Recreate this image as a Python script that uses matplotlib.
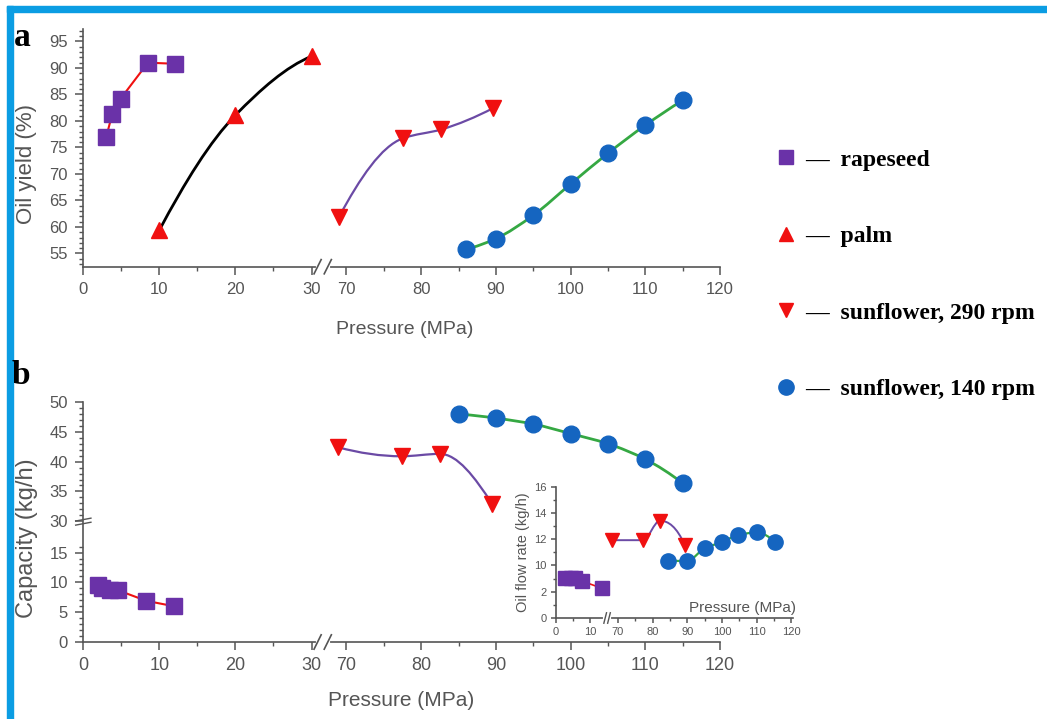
import numpy as np
import matplotlib.pyplot as plt
from matplotlib.lines import Line2D
from matplotlib.path import Path
from matplotlib.patches import PathPatch, Rectangle

# ---- panel a: oil yield (%) ----
rape_x_a = [3.0, 3.8, 4.9, 8.5, 12.0]
rape_y_a = [76.9, 81.3, 84.2, 91.0, 90.8]
palm_x_a = [10, 20, 30]
palm_y_a = [59.4, 81.1, 92.2]
sun290_x_a = [69.0, 77.5, 82.7, 89.6]
sun290_y_a = [61.9, 76.7, 78.4, 82.4]
sun140_x_a = [86, 90, 95, 100, 105, 110, 115]
sun140_y_a = [55.8, 57.8, 62.2, 68.1, 73.9, 79.2, 83.9]

# ---- panel b: capacity (kg/h) ----
rape_x_b = [1.9, 2.5, 3.5, 4.5, 8.3, 11.9]
rape_y_b = [9.6, 9.0, 8.8, 8.7, 6.9, 6.0]
sun290_x_b = [68.9, 77.4, 82.5, 89.5]
sun290_y_b = [42.4, 40.9, 41.3, 32.9]
sun140_x_b = [85, 90, 95, 100, 105, 110, 115]
sun140_y_b = [48.0, 47.3, 46.3, 44.7, 43.0, 40.4, 36.4]

# ---- inset: oil flow rate (kg/h) ----
rape_x_in = [2.7, 4.5, 5.5, 7.6, 13.3]
rape_y_in = [3.1, 3.1, 3.05, 2.85, 2.3]
sun290_x_in = [68.3, 77.2, 82.1, 89.3]
sun290_y_in = [11.9, 11.9, 13.4, 11.5]
sun140_x_in = [84.4, 89.9, 95.1, 100, 104.6, 110.1, 115.3]
sun140_y_in = [10.3, 10.3, 11.3, 11.75, 12.3, 12.5, 11.75]

main_xticks = [0, 10, 20, 30, 70, 80, 90, 100, 110, 120]
main_xminor = [5, 15, 25, 75, 85, 95, 105, 115]
yield_ticks = [55, 60, 65, 70, 75, 80, 85, 90, 95]
cap_ticks = [0, 5, 10, 15, 30, 35, 40, 45, 50]
inset_xticks = [0, 10, 70, 80, 90, 100, 110, 120]
inset_xminor = [5, 75, 85, 95, 105, 115]
inset_yticks = [0, 2, 10, 12, 14, 16]
inset_yminor = [1, 3, 11, 13, 15]

legend_labels = ['—  rapeseed', '—  palm', '—  sunflower, 290 rpm', '—  sunflower, 140 rpm']

PURPLE = '#6a32a8'
RED = '#f01010'
BLUE = '#1565c0'
GREEN = '#35a843'
LINE_PURPLE = '#6b4aa5'
GREY = '#555555'

plt.rcParams['font.family'] = 'Liberation Sans'


def broken_scale(knots_in, knots_out):
    # piecewise linear scale used for the axis breaks
    xk = np.array(knots_in, float)
    tk = np.array(knots_out, float)
    return (lambda v: np.interp(v, xk, tk), lambda t: np.interp(t, tk, xk))


def pchip_slopes(x, y):
    h = np.diff(x)
    d = np.diff(y) / h
    n = len(x)
    m = np.zeros(n)
    for i in range(1, n - 1):
        if d[i - 1] * d[i] > 0:
            w1 = 2 * h[i] + h[i - 1]
            w2 = h[i] + 2 * h[i - 1]
            m[i] = (w1 + w2) / (w1 / d[i - 1] + w2 / d[i])
    if n > 2:
        m[0] = ((2 * h[0] + h[1]) * d[0] - h[0] * d[1]) / (h[0] + h[1])
        m[-1] = ((2 * h[-1] + h[-2]) * d[-1] - h[-1] * d[-2]) / (h[-1] + h[-2])
        for j, dj in ((0, d[0]), (n - 1, d[-1])):
            if m[j] * dj <= 0:
                m[j] = 0.0
    else:
        m[0] = m[-1] = d[0]
    return m


def smooth_path(xs, ys):
    # monotone cubic drawn as bezier segments
    x = np.asarray(xs, float)
    y = np.asarray(ys, float)
    m = pchip_slopes(x, y)
    verts = [(x[0], y[0])]
    codes = [Path.MOVETO]
    for i in range(len(x) - 1):
        h = x[i + 1] - x[i]
        verts += [(x[i] + h / 3, y[i] + m[i] * h / 3),
                  (x[i + 1] - h / 3, y[i + 1] - m[i + 1] * h / 3),
                  (x[i + 1], y[i + 1])]
        codes += [Path.CURVE4] * 3
    return Path(verts, codes)


def smooth_line(ax, xs, ys, color, lw):
    ax.add_patch(PathPatch(smooth_path(xs, ys), facecolor='none',
                           edgecolor=color, lw=lw, zorder=2))


def style_axes(ax, labelsize):
    for s in ('top', 'right'):
        ax.spines[s].set_visible(False)
    for s in ('left', 'bottom'):
        ax.spines[s].set_color(GREY)
        ax.spines[s].set_linewidth(1.2)
    ax.tick_params(which='major', direction='out', length=6, width=1.1,
                   color=GREY, labelcolor=GREY, labelsize=labelsize, pad=5)
    ax.tick_params(which='minor', direction='out', length=3, width=1.0, color=GREY)


def x_break(ax, xf, dx, dy, lw=1.2):
    ax.plot([xf - dx, xf + dx], [0, 0], transform=ax.transAxes, color='white',
            lw=3, clip_on=False, zorder=4)
    for off in (-dx, dx):
        ax.plot([xf + off - dx * 0.7, xf + off + dx * 0.7], [-dy, dy],
                transform=ax.transAxes, color=GREY, lw=lw, clip_on=False, zorder=5)


fig = plt.figure(figsize=(10.47, 7.19), dpi=100)
W, H = 1047, 719

# blue frame
fig.patches.append(Rectangle((7 / W, 0), 6 / W, 1 - 6 / H, transform=fig.transFigure,
                             color='#0b9de3', zorder=0))
fig.patches.append(Rectangle((7 / W, 1 - 12 / H), 1, 6 / H, transform=fig.transFigure,
                             color='#0b9de3', zorder=0))

x_fwd, x_inv = broken_scale([-1000, 31, 68, 1000], [-1000, 31, 32.636, 34.6 + 930 * 0.982])

# ---------------- panel a ----------------
ax_a = fig.add_axes([83.3 / W, 1 - 266.7 / H, 636.7 / W, 237.4 / H])
ax_a.set_xscale('function', functions=(x_fwd, x_inv))
ax_a.set_xlim(0, 120)
ax_a.set_ylim(52.5, 97.3)
ax_a.set_xticks(main_xticks)
ax_a.set_xticks(main_xminor, minor=True)
ax_a.set_yticks(yield_ticks)
ax_a.set_yticks(np.arange(53, 98, 1), minor=True)
style_axes(ax_a, 12)

ax_a.plot(rape_x_a, rape_y_a, color=RED, lw=1.5, zorder=2)
smooth_line(ax_a, palm_x_a, palm_y_a, 'black', 2)
smooth_line(ax_a, sun290_x_a, sun290_y_a, LINE_PURPLE, 1.6)
smooth_line(ax_a, sun140_x_a, sun140_y_a, GREEN, 2)
ax_a.plot(rape_x_a, rape_y_a, ls='none', marker='s', ms=12, color=PURPLE, zorder=3)
ax_a.plot(palm_x_a, palm_y_a, ls='none', marker='^', ms=12, color=RED, zorder=3)
ax_a.plot(sun290_x_a, sun290_y_a, ls='none', marker='v', ms=12, color=RED, zorder=3)
ax_a.plot(sun140_x_a, sun140_y_a, ls='none', marker='o', ms=12, color=BLUE, zorder=3)

ax_a.set_xlabel('Pressure (MPa)', fontsize=14, color=GREY)
ax_a.xaxis.set_label_coords(0.505, -0.227)
ax_a.set_ylabel('Oil yield (%)', fontsize=16, color=GREY)
ax_a.yaxis.set_label_coords(-0.072, 0.433)
x_break(ax_a, 0.376, 0.008, 0.03)

# ---------------- panel b ----------------
y_fwd, y_inv = broken_scale([-1000, 17, 29, 1000], [-1000, 17, 19.25, 1000 - 9.75])
ax_b = fig.add_axes([83.3 / W, 1 - 642 / H, 636.7 / W, 240 / H])
ax_b.set_xscale('function', functions=(x_fwd, x_inv))
ax_b.set_yscale('function', functions=(y_fwd, y_inv))
ax_b.set_xlim(0, 120)
ax_b.set_ylim(0, 50)
ax_b.set_xticks(main_xticks)
ax_b.set_xticks(main_xminor, minor=True)
ax_b.set_yticks(cap_ticks)
ax_b.set_yticks(list(range(0, 17)) + list(range(30, 51)), minor=True)
style_axes(ax_b, 12)
ax_b.tick_params(axis='x', which='major', labelsize=13)

ax_b.plot(rape_x_b, rape_y_b, color=RED, lw=1.5, zorder=2)
smooth_line(ax_b, sun290_x_b, sun290_y_b, LINE_PURPLE, 1.6)
smooth_line(ax_b, sun140_x_b, sun140_y_b, GREEN, 2)
ax_b.plot(rape_x_b, rape_y_b, ls='none', marker='s', ms=11, color=PURPLE, zorder=3)
ax_b.plot(sun290_x_b, sun290_y_b, ls='none', marker='v', ms=12, color=RED, zorder=3)
ax_b.plot(sun140_x_b, sun140_y_b, ls='none', marker='o', ms=12, color=BLUE, zorder=3)

ax_b.set_xlabel('Pressure (MPa)', fontsize=15, color=GREY)
ax_b.xaxis.set_label_coords(0.499, -0.204)
ax_b.set_ylabel('Capacity (kg/h)', fontsize=17, color=GREY)
ax_b.yaxis.set_label_coords(-0.071, 0.433)
x_break(ax_b, 0.376, 0.008, 0.03)
for yf in (0.493, 0.51):
    ax_b.plot([-0.012, 0.012], [yf - 0.006, yf + 0.006], transform=ax_b.transAxes,
              color=GREY, lw=1.0, clip_on=False, zorder=5)

# ---------------- inset ----------------
ix_fwd, ix_inv = broken_scale([-1000, 14.5, 67, 1000], [-1000, 14.5, 15, 948])
iy_fwd, iy_inv = broken_scale([-1000, 3.5, 9.6, 1000], [-1000, 3.5, 3.7, 994.1])
ax_in = fig.add_axes([555.5 / W, 1 - 618 / H, 237.7 / W, 131 / H])
ax_in.set_facecolor('none')
ax_in.set_xscale('function', functions=(ix_fwd, ix_inv))
ax_in.set_yscale('function', functions=(iy_fwd, iy_inv))
ax_in.set_xlim(0, 120.5)
ax_in.set_ylim(0, 16)
ax_in.set_xticks(inset_xticks)
ax_in.set_xticks(inset_xminor, minor=True)
ax_in.set_yticks(inset_yticks)
ax_in.set_yticks(inset_yminor, minor=True)
style_axes(ax_in, 8)
ax_in.tick_params(which='major', length=3.5, pad=3)
ax_in.tick_params(which='minor', length=2)

ax_in.plot(rape_x_in, rape_y_in, color=RED, lw=1.2, zorder=2)
smooth_line(ax_in, sun290_x_in, sun290_y_in, LINE_PURPLE, 1.4)
smooth_line(ax_in, sun140_x_in, sun140_y_in, GREEN, 1.6)
ax_in.plot(rape_x_in, rape_y_in, ls='none', marker='s', ms=10, color=PURPLE, zorder=3)
ax_in.plot(sun290_x_in, sun290_y_in, ls='none', marker='v', ms=10, color=RED, zorder=3)
ax_in.plot(sun140_x_in, sun140_y_in, ls='none', marker='o', ms=11, color=BLUE, zorder=3)

ax_in.set_ylabel('Oil flow rate (kg/h)', fontsize=10.5, color=GREY, labelpad=3)
ax_in.text(0.785, 0.076, 'Pressure (MPa)', transform=ax_in.transAxes, fontsize=11,
           color=GREY, ha='center', va='center')
x_break(ax_in, 0.217, 0.008, 0.04, lw=1.0)

# ---------------- legend & panel letters ----------------
handles = [
    Line2D([], [], ls='none', marker='s', ms=10, color=PURPLE),
    Line2D([], [], ls='none', marker='^', ms=10, color=RED),
    Line2D([], [], ls='none', marker='v', ms=10, color=RED),
    Line2D([], [], ls='none', marker='o', ms=11, color=BLUE),
]
fig.legend(handles, legend_labels, loc='upper left', bbox_to_anchor=(774 / W, 1 - 149 / H),
           frameon=False, prop=dict(family='Liberation Serif', weight='bold', size=17),
           handlelength=1.0, handletextpad=0.3, labelspacing=2.33, borderpad=0,
           borderaxespad=0)

fig.text(14 / W, 1 - 46 / H, 'a', fontsize=24, fontweight='bold', family='Liberation Serif')
fig.text(12 / W, 1 - 384 / H, 'b', fontsize=24, fontweight='bold', family='Liberation Serif')

fig.savefig('out.png', dpi=100)
